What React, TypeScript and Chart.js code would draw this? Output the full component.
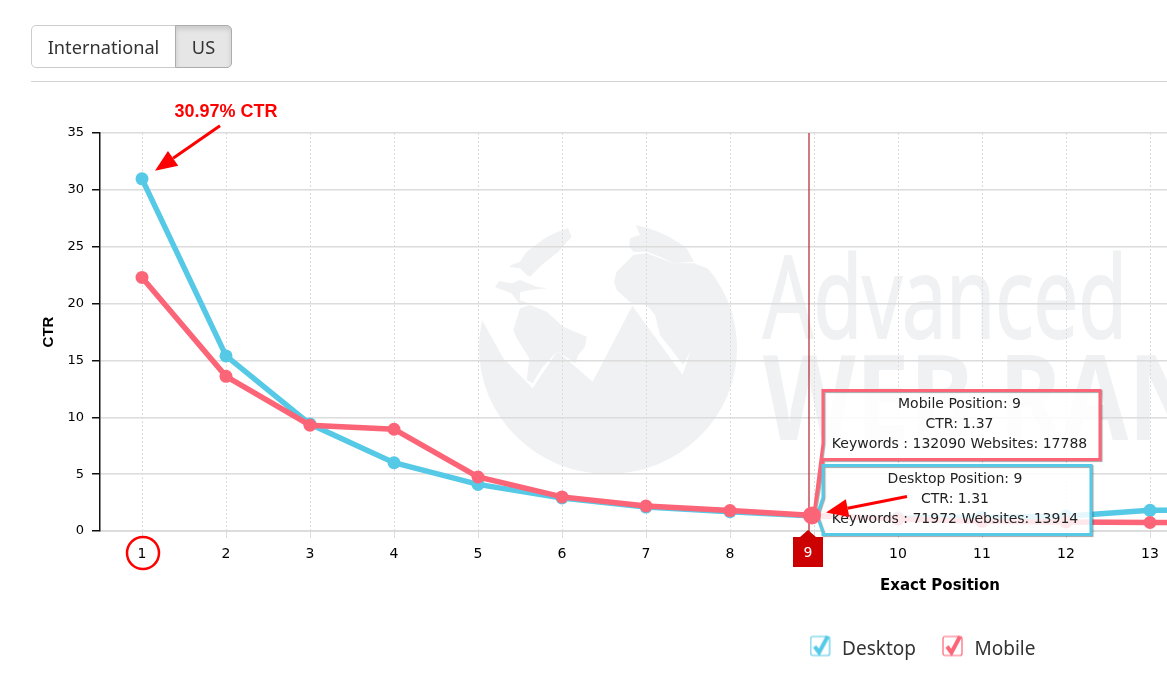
import { useEffect, useRef } from "react"
import { Chart, registerables } from "chart.js"

Chart.register(...registerables)

const positions = ["1", "2", "3", "4", "5", "6", "7", "8", "9", "10", "11", "12", "13", "14", "15", "16", "17", "18", "19", "20"]
const desktopCtr = [30.97, 15.4, 9.4, 6.0, 4.1, 2.9, 2.1, 1.7, 1.31, 1.15, 1.2, 1.3, 1.82, 1.85]
const mobileCtr = [22.3, 13.6, 9.3, 8.95, 4.75, 3.0, 2.2, 1.8, 1.37, 1.05, 0.85, 0.8, 0.75, 0.72]
const yMax = 35
const yStep = 5
const activeIndex = 8

const BLUE = "#55c9e6"
const PINK = "#fc6577"
const RED = "#ff0000"
const WATERMARK = "#f0f1f3"
const FONT = "'DejaVu Sans'"

const mobileTip = ["Mobile Position: 9", "CTR: 1.37", "Keywords : 132090 Websites: 17788"]
const desktopTip = ["Desktop Position: 9", "CTR: 1.31", "Keywords : 71972 Websites: 13914"]

// in px of a 280x270 box
const logoShapes = [
  [[0, 310], [36, 315], [100, 430], [188, 520], [262, 408], [368, 500], [487, 272], [638, 480], [692, 310], [700, 270], [840, 270], [840, 810], [0, 810]],
  [[440, 170], [470, 140], [490, 120], [530, 115], [570, 130], [610, 145], [672, 145], [725, 165], [840, 170], [840, 300], [695, 300], [665, 400], [640, 450], [570, 360], [555, 300], [530, 270], [480, 262], [440, 225], [432, 200]],
  [[478, 95], [480, 70], [510, 60], [497, 30], [530, 25], [600, 60], [650, 100], [672, 140], [610, 145], [570, 125], [530, 110], [490, 110]],
  [[110, 155], [150, 140], [170, 110], [230, 65], [290, 30], [305, 65], [265, 110], [215, 150], [180, 185], [170, 180], [150, 160]],
  [[72, 215], [85, 198], [125, 205], [150, 195], [200, 215], [232, 220], [180, 225], [150, 232], [150, 255], [175, 265], [150, 270], [125, 235]],
  [[150, 280], [180, 270], [230, 290], [280, 335], [350, 365], [345, 395], [325, 420], [315, 445], [280, 420], [262, 408], [215, 460], [188, 505], [170, 495], [178, 430], [140, 370], [130, 345]],
]

function fitText(ctx: CanvasRenderingContext2D, text: string, font: string, x: number, y: number, width: number, stroke = 0) {
  ctx.save()
  ctx.font = font
  ctx.textAlign = "left"
  ctx.textBaseline = "alphabetic"
  ctx.translate(x, y)
  ctx.scale(width / ctx.measureText(text).width, 1)
  ctx.fillText(text, 0, 0)
  if (stroke) {
    ctx.strokeStyle = WATERMARK
    ctx.lineWidth = stroke
    ctx.strokeText(text, 0, 0)
  }
  ctx.restore()
}

const watermark = {
  id: "watermark",
  beforeDraw(chart: Chart) {
    const ctx = chart.ctx
    ctx.save()
    ctx.fillStyle = WATERMARK
    ctx.save()
    ctx.beginPath()
    ctx.ellipse(608, 348, 129, 126, 0, 0, Math.PI * 2)
    ctx.clip()
    for (const shape of logoShapes) {
      ctx.beginPath()
      shape.forEach(([x, y], i) => {
        const px = 470 + x / 3
        const py = 215 + y / 3
        if (i === 0) ctx.moveTo(px, py)
        else ctx.lineTo(px, py)
      })
      ctx.closePath()
      ctx.fill()
    }
    ctx.restore()
    fitText(ctx, "Advanced", "113px 'Open Sans'", 763, 338, 364, 2)
    fitText(ctx, "WEB RANK", "bold 119px 'Open Sans'", 763, 440, 507)
    ctx.restore()
  },
}

function arrow(ctx: CanvasRenderingContext2D, x1: number, y1: number, x2: number, y2: number) {
  const a = Math.atan2(y2 - y1, x2 - x1)
  const len = 22
  const wing = 9
  const bx = x2 - Math.cos(a) * len
  const by = y2 - Math.sin(a) * len
  ctx.strokeStyle = RED
  ctx.fillStyle = RED
  ctx.lineWidth = 3
  ctx.beginPath()
  ctx.moveTo(x1, y1)
  ctx.lineTo(bx, by)
  ctx.stroke()
  ctx.beginPath()
  ctx.moveTo(x2, y2)
  ctx.lineTo(bx - Math.sin(a) * wing, by + Math.cos(a) * wing)
  ctx.lineTo(bx + Math.sin(a) * wing, by - Math.cos(a) * wing)
  ctx.closePath()
  ctx.fill()
}

function callout(
  ctx: CanvasRenderingContext2D,
  color: string,
  lines: string[],
  left: number,
  top: number,
  right: number,
  bottom: number,
  tipX: number,
  tipY: number,
  tipFrom: number,
  tipTo: number,
) {
  ctx.save()
  ctx.beginPath()
  ctx.moveTo(left, top)
  ctx.lineTo(right, top)
  ctx.lineTo(right, bottom)
  ctx.lineTo(left, bottom)
  ctx.lineTo(left, tipTo)
  ctx.lineTo(tipX, tipY)
  ctx.lineTo(left, tipFrom)
  ctx.closePath()
  ctx.fillStyle = "rgba(255,255,255,0.85)"
  ctx.fill()
  ctx.shadowColor = "rgba(0,0,0,0.35)"
  ctx.shadowOffsetX = 1
  ctx.shadowOffsetY = 1
  ctx.shadowBlur = 1
  ctx.strokeStyle = color
  ctx.lineWidth = 3
  ctx.stroke()
  ctx.shadowColor = "transparent"
  ctx.fillStyle = "#222"
  ctx.font = `14px ${FONT}`
  ctx.textAlign = "center"
  ctx.textBaseline = "middle"
  lines.forEach((line, i) => ctx.fillText(line, (left + right) / 2 - 2, top + 13.5 + i * 20))
  ctx.restore()
}

const annotations = {
  id: "annotations",
  afterDraw(chart: Chart) {
    const ctx = chart.ctx
    const xs = chart.scales.x
    const ys = chart.scales.y
    const first = chart.getDatasetMeta(0).data[0]
    const active = chart.getDatasetMeta(1).data[activeIndex]
    const cx = active.x
    const cy = active.y
    const labelY = ys.bottom + 22
    ctx.save()

    // hover crosshair and its axis flag
    const lineX = xs.getPixelForValue(activeIndex) - 5
    ctx.strokeStyle = "#b3202c"
    ctx.lineWidth = 1.2
    ctx.beginPath()
    ctx.moveTo(lineX, ys.top)
    ctx.lineTo(lineX, ys.bottom + 6)
    ctx.stroke()
    ctx.fillStyle = "#cc0000"
    ctx.beginPath()
    ctx.moveTo(lineX - 1, ys.bottom - 1)
    ctx.lineTo(lineX + 7, ys.bottom + 6)
    ctx.lineTo(lineX + 14, ys.bottom + 6)
    ctx.lineTo(lineX + 14, ys.bottom + 36)
    ctx.lineTo(lineX - 16, ys.bottom + 36)
    ctx.lineTo(lineX - 16, ys.bottom + 6)
    ctx.lineTo(lineX - 9, ys.bottom + 6)
    ctx.closePath()
    ctx.fill()
    ctx.fillStyle = "#fff"
    ctx.font = `14px ${FONT}`
    ctx.textAlign = "center"
    ctx.textBaseline = "middle"
    ctx.fillText(positions[activeIndex], lineX - 1, labelY)

    callout(ctx, PINK, mobileTip, cx + 9, cy - 125, cx + 286, cy - 56, cx, cy - 2, cy - 72, cy - 56)
    callout(ctx, BLUE, desktopTip, cx + 9, cy - 50, cx + 277, cy + 19, cx + 3, cy, cy - 18, cy + 17)

    // hovered marker stays above its call-outs
    ctx.fillStyle = PINK
    ctx.beginPath()
    ctx.arc(cx - 2, cy, 9, 0, Math.PI * 2)
    ctx.fill()

    arrow(ctx, cx + 93, cy - 19, cx + 12, cy - 3)

    // best position call-out
    arrow(ctx, first.x + 78, first.y - 53, first.x + 13, first.y - 8)
    ctx.fillStyle = RED
    ctx.font = "bold 18px 'Liberation Sans'"
    ctx.fillText("30.97% CTR", first.x + 84, first.y - 67)
    ctx.strokeStyle = RED
    ctx.lineWidth = 2.5
    ctx.beginPath()
    ctx.arc(xs.getPixelForValue(0) + 1, labelY, 16, 0, Math.PI * 2)
    ctx.stroke()
    ctx.restore()
  },
}

function checkIcon(color: string) {
  const c = document.createElement("canvas")
  c.width = 26
  c.height = 30
  const ctx = c.getContext("2d")!
  ctx.strokeStyle = color
  ctx.lineWidth = 1.2
  ctx.beginPath()
  ctx.roundRect(1, 2, 19, 19, 2)
  ctx.stroke()
  ctx.lineWidth = 4
  ctx.beginPath()
  ctx.moveTo(5, 12)
  ctx.lineTo(9.5, 18)
  ctx.lineTo(18, 2)
  ctx.stroke()
  return c
}

export default function App() {
  const chartRef = useRef<HTMLCanvasElement>(null)

  useEffect(() => {
    if (!chartRef.current) return
    const icons = [checkIcon(BLUE), checkIcon(PINK)]
    const chart = new Chart(chartRef.current, {
      type: "line",
      data: {
        labels: positions,
        datasets: [
          {
            label: "Desktop",
            data: desktopCtr,
            order: 2,
            borderColor: BLUE,
            backgroundColor: BLUE,
            borderWidth: 5.5,
            pointRadius: 6.5,
            pointBorderWidth: 0,
            tension: 0,
          },
          {
            label: "Mobile",
            data: mobileCtr,
            order: 1,
            borderColor: PINK,
            backgroundColor: PINK,
            borderWidth: 5.5,
            pointRadius: 6.5,
            pointBorderWidth: 0,
            tension: 0,
          },
        ],
      },
      options: {
        responsive: false,
        animation: false,
        layout: { padding: { top: 133, right: 68, bottom: 0, left: 68 } },
        scales: {
          x: {
            offset: true,
            afterFit: (s: any) => {
              s.height = 80
            },
            border: { color: "#dcdcdc", width: 2, dash: [2, 2] },
            grid: { color: "#dcdcdc", lineWidth: 1, tickLength: 7, offset: false },
            ticks: { color: "#000", font: { family: FONT, size: 14 }, padding: 8, maxRotation: 0, autoSkip: false },
            title: {
              display: true,
              text: "Exact Position",
              color: "#000",
              font: { family: FONT, size: 15, weight: "bold" },
              padding: { top: 0, bottom: 16 },
            },
          },
          y: {
            min: 0,
            max: yMax,
            afterFit: (s: any) => {
              s.width = 32
            },
            border: { color: "#111", width: 1.5 },
            grid: { color: "#dcdcdc", lineWidth: 1.5, tickLength: 8, tickColor: "#111" },
            ticks: { stepSize: yStep, color: "#000", font: { family: FONT, size: 13 }, padding: 8 },
            title: {
              display: true,
              text: "CTR",
              color: "#000",
              font: { family: "'Liberation Sans'", size: 15, weight: "bold" },
              padding: { top: -28, bottom: 0 },
            },
          },
        },
        plugins: {
          tooltip: { enabled: false },
          legend: {
            position: "bottom",
            labels: {
              usePointStyle: true,
              pointStyleWidth: 20,
              padding: 29,
              color: "#333",
              font: { family: "'Noto Sans'", size: 19 },
              generateLabels: (c: Chart) =>
                c.data.datasets.map((d, i) => ({
                  text: d.label as string,
                  pointStyle: icons[i],
                  datasetIndex: i,
                  fontColor: "#333",
                  lineWidth: 0,
                })),
            },
          },
        },
      },
      plugins: [watermark, annotations],
    })

    return () => chart.destroy()
  }, [])

  const btn = {
    boxSizing: "border-box" as const,
    height: 43,
    display: "flex",
    alignItems: "center",
    justifyContent: "center",
    fontFamily: "'Noto Sans'",
    fontSize: 18.2,
    color: "#333",
    border: "1px solid #ccc",
  }

  return (
    <div style={{ position: "fixed", left: 0, top: 0, width: 1167, height: 678, overflow: "hidden", background: "#fff" }}>
      <canvas ref={chartRef} width={1848} height={669} style={{ position: "absolute", left: 0, top: 0, display: "block" }} />
      <div style={{ position: "absolute", left: 31, top: 25, display: "flex" }}>
        <div style={{ ...btn, width: 145, borderRadius: "5px 0 0 5px", background: "#fff" }}>International</div>
        <div
          style={{
            ...btn,
            width: 57,
            marginLeft: -1,
            borderRadius: "0 5px 5px 0",
            background: "#e6e6e6",
            borderColor: "#adadad",
            boxShadow: "inset 0 3px 5px rgba(0,0,0,0.125)",
          }}
        >
          US
        </div>
      </div>
      <div style={{ position: "absolute", left: 31, right: 0, top: 81, height: 1, background: "#d4d4d4" }} />
    </div>
  )
}
